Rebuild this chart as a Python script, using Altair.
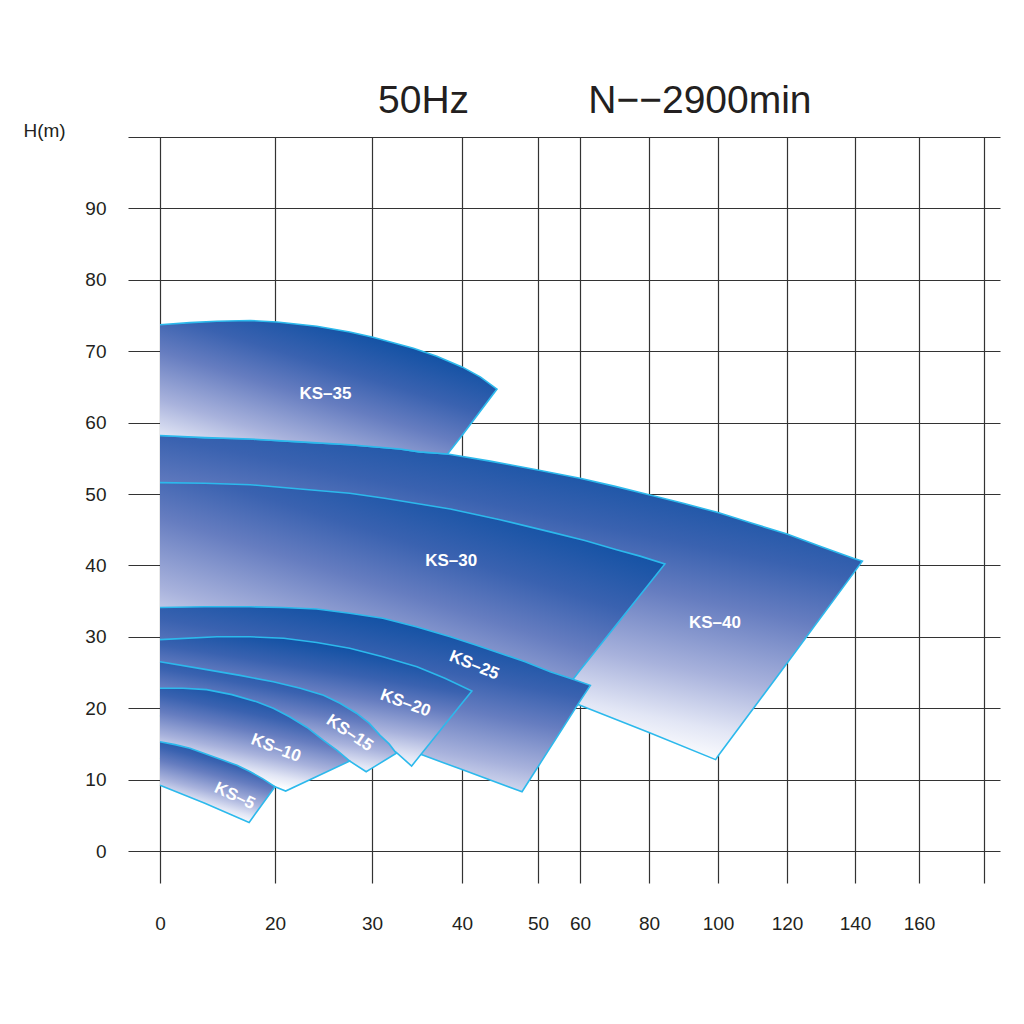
import altair as alt
import pandas as pd

# ---------------- data (flow Q, head H) ----------------
x_ticks = [0, 20, 30, 40, 50, 60, 80, 100, 120, 140, 160, 180]
y_ticks = [0, 10, 20, 30, 40, 50, 60, 70, 80, 90, 100]

ks40_q = [0, 7.8, 15.7, 22.6, 27.7, 33.1, 35.3, 38.4, 43.7, 46.3, 49.8, 60, 69.9, 80, 89.9,
          100, 109.9, 120, 129.7, 139.5, 142.3,
          140, 120, 100, 99.3, 80, 60, 45, 33.1, 22.6, 0]
ks40_h = [58.2, 57.9, 57.7, 57.3, 56.9, 56.3, 55.9, 55.6, 54.6, 54.1, 53.4, 52.2, 51.1, 49.9, 48.7,
          47.4, 45.9, 44.4, 42.7, 41.0, 40.6,
          39.2, 26.3, 13.3, 12.8, 16.6, 20.4, 23.9, 26.8, 28.4, 29.6]

ks35_q = [0, 5.2, 9.9, 15.7, 20.2, 24.3, 27.7, 30, 34.6, 37.2, 40, 42.4, 44.6,
          40, 38.4, 35.3, 33.1, 27.7, 22.6, 15.7, 7.8, 0]
ks35_h = [73.7, 74.0, 74.2, 74.3, 74.1, 73.5, 72.7, 72.0, 70.4, 69.3, 67.8, 66.4, 64.7,
          58.2, 55.6, 55.9, 56.3, 56.9, 57.3, 57.7, 57.9, 58.2]

ks30_q = [0, 7.8, 15.7, 22.6, 27.7, 31.4, 35.3, 38.7, 45, 52.9, 61.4, 70.6, 77.4, 84.6,
          80, 60, 51.7, 38.7, 27.7, 0]
ks30_h = [51.6, 51.5, 51.3, 50.7, 50.1, 49.4, 48.6, 47.9, 46.4, 44.7, 43.5, 42.2, 41.3, 40.2,
          37.4, 25.3, 19.0, 22.5, 25.6, 28.2]

ks25_q = [0, 7.8, 15.7, 20.8, 24.3, 27.7, 31.2, 34.9, 38.7, 41.7, 45, 48.3, 52.9, 57.6, 63.0,
          60, 50, 47.9, 40, 35.7, 30.9, 22.6, 0]
ks25_h = [34.1, 34.2, 34.2, 34.1, 33.9, 33.3, 32.6, 31.4, 30.0, 28.9, 27.7, 26.5, 25.1, 24.2, 23.2,
          21.0, 11.8, 8.3, 11.4, 13.4, 15.5, 19.0, 21.8]

ks20_q = [0, 9.9, 15.7, 20.9, 24.3, 27.7, 31.2, 35.0, 38.1, 41.3,
          40, 34.4, 32.7, 27.7, 20.5, 0]
ks20_h = [29.6, 30.0, 30.0, 29.8, 29.2, 28.4, 27.2, 25.8, 24.2, 22.4,
          20.7, 11.9, 13.8, 17.2, 20.4, 22.5]

ks15_q = [0, 8.1, 13.9, 19.7, 22.6, 25.0, 26.7, 28.4, 29.7, 30.9, 31.9, 32.7,
          30, 29.4, 27.7, 22.6, 12.2, 0]
ks15_h = [26.5, 25.4, 24.6, 23.7, 22.8, 21.8, 20.7, 19.3, 17.9, 16.2, 15.0, 13.7,
          11.6, 11.1, 12.6, 14.8, 16.9, 19.0]

ks10_q = [0, 4.0, 8.1, 12.5, 16.8, 19.7, 21.5, 23.3, 25.0, 26.4, 27.7,
          21.1, 20, 12.2, 0]
ks10_h = [22.8, 22.8, 22.6, 21.9, 20.9, 20.0, 18.8, 17.3, 15.5, 14.1, 12.6,
          8.4, 9.0, 11.1, 13.0]

ks5_q = [0, 2.6, 5.2, 11.0, 13.4, 15.7, 17.9, 20, 15.5, 7.8, 0]
ks5_h = [15.3, 14.9, 14.4, 12.7, 12.0, 11.1, 10.1, 9.0, 4.0, 6.7, 9.2]

shape_names = ["KS-40", "KS-35", "KS-30", "KS-25", "KS-20", "KS-15", "KS-10", "KS-5"]
shape_q = [ks40_q, ks35_q, ks30_q, ks25_q, ks20_q, ks15_q, ks10_q, ks5_q]
shape_h = [ks40_h, ks35_h, ks30_h, ks25_h, ks20_h, ks15_h, ks10_h, ks5_h]

label_text = ["KS\u201335", "KS\u201330", "KS\u201340", "KS\u201325", "KS\u201320", "KS\u201315", "KS\u201310", "KS\u20135"]
label_q = [25.2, 38.8, 99.1, 41.6, 33.7, 27.7, 20.1, 13.0]
label_h = [64.0, 40.6, 31.9, 26.0, 20.7, 16.5, 14.4, 7.7]
label_angle = [0, 0, 0, 22, 20, 34, 21, 25]

# ---------------- styling ----------------
FONT = "Liberation Sans"
# non-uniform axis spacing: pixel position of each domain break in the plot area
X_DOMAIN = [-5.565] + x_ticks + [184.9]
X_RANGE = [0, 32, 147, 244, 334, 410, 452, 521, 590, 659, 727, 791, 856, 872]
OUTLINE = "#2cb9ec"
TEXT = "#231f20"
GRID = "#333333"

# gradient direction (in each shape's bounding box) per shape
GRAD_VEC = {
    "KS-40": (1, 0, 0.59, 0.93),
    "KS-35": (1, 0, 0.12, 1.14),
    "KS-30": (1, 0, 0.30, 1.03),
    "KS-25": (1, 0, 0.54, 1.05),
    "KS-20": (1, 0, 0.63, 0.97),
    "KS-15": (1, 0, 0.63, 0.97),
    "KS-10": (1, 0, 0.63, 0.97),
    "KS-5": (1, 0, 0.63, 0.97),
}
STOPS = [(0, "#0a4c9e"), (0.2, "#0f50a3"), (0.4, "#3a62b0"), (0.55, "#667dc0"),
         (0.75, "#a8b2dc"), (0.9, "#e2e6f5"), (1, "#ffffff")]

rows = []
for name, qs, hs in zip(shape_names, shape_q, shape_h):
    for i, (q, h) in enumerate(zip(qs, hs)):
        rows.append({"shape": name, "i": i, "Q": q, "H": h})
df = pd.DataFrame(rows)

lab = pd.DataFrame({"t": label_text, "Q": label_q, "H": label_h, "a": label_angle})

xscale = alt.Scale(domain=X_DOMAIN, range=X_RANGE, nice=False, zero=False)
yscale = alt.Scale(domain=[-4.48, 100], nice=False, zero=False)

xaxis = alt.Axis(values=x_ticks, grid=True, domain=False, ticks=False, tickSize=0,
                 labelPadding=40, labelBaseline="middle", labelFontSize=19, labelFont=FONT,
                 labelColor=TEXT, labelFlush=False, labelOverlap=False,
                 labelExpr="datum.value == 180 ? '' : datum.label", title=None,
                 gridColor=GRID, gridWidth=1.2, gridOpacity=1)
yaxis = alt.Axis(values=y_ticks, grid=True, domain=False, ticks=False, tickSize=0,
                 labelPadding=22, labelBaseline="middle", labelFontSize=19, labelFont=FONT,
                 labelColor=TEXT, labelFlush=False, labelOverlap=False,
                 labelExpr="datum.value == 100 ? '' : datum.label",
                 title="H(m)", titleAngle=0, titleX=-84, titleY=-7, titleAlign="center",
                 titleBaseline="middle", titleFontSize=19, titleFont=FONT,
                 titleFontWeight="normal", titleColor=TEXT,
                 gridColor=GRID, gridWidth=1.2, gridOpacity=1)


def grad(name):
    x1, y1, x2, y2 = GRAD_VEC[name]
    return alt.Gradient(
        gradient="linear",
        stops=[alt.GradientStop(color=c, offset=o) for o, c in STOPS],
        x1=x1, y1=y1, x2=x2, y2=y2,
    )


layers = []
for name in shape_names:
    layers.append(
        alt.Chart(df)
        .transform_filter(alt.datum.shape == name)
        .mark_line(fill=grad(name), stroke=OUTLINE, strokeWidth=1.6, interpolate="linear")
        .encode(
            x=alt.X("Q:Q", scale=xscale, axis=xaxis),
            y=alt.Y("H:Q", scale=yscale, axis=yaxis),
            order=alt.Order("i:Q"),
        )
    )

labels = alt.Chart(lab).mark_text(
    font=FONT, fontSize=17, fontWeight="bold", color="white", align="center", baseline="middle"
).encode(
    x=alt.X("Q:Q", scale=xscale, axis=xaxis),
    y=alt.Y("H:Q", scale=yscale, axis=yaxis),
    text="t:N",
    angle=alt.Angle("a:Q", scale=None),
)

chart = (
    alt.layer(*layers, labels)
    .properties(
        width=872, height=746,
        autosize=alt.AutoSizeParams(type="none"),
        padding={"left": 120, "top": 129, "right": 16, "bottom": 100},
        title=alt.TitleParams(
            text="50Hz" + "\u00a0" * 11 + "N\u2212\u22122900min",
            anchor="start", frame="group", dx=250, offset=0,
            fontSize=39, font=FONT, fontWeight="normal", color=TEXT,
        ),
    )
    .configure_view(stroke=None)
)

chart.save("out.html", embed_options={"renderer": "svg", "actions": False})
